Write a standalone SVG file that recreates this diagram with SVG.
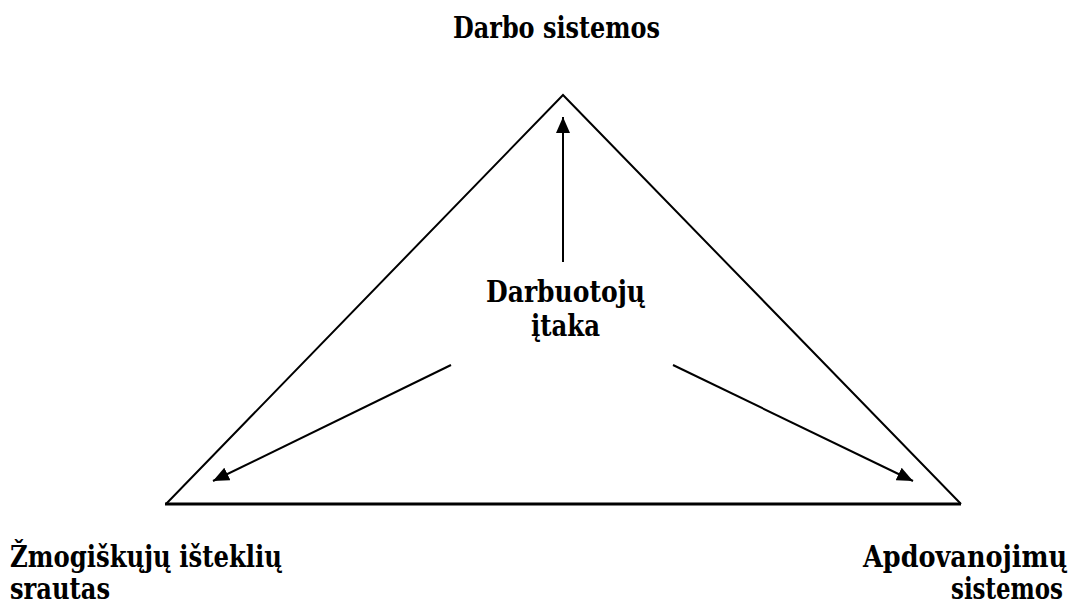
<svg xmlns="http://www.w3.org/2000/svg" width="1070" height="607" viewBox="0 0 1070 607">
<defs>
<style>
text{font-family:'DejaVu Serif Condensed','Liberation Serif',serif;font-stretch:condensed;font-weight:700;font-size:29px;fill:#000}
.l{stroke:#000;stroke-width:2;fill:none}
</style>
<marker id="a" viewBox="0 0 16 14" refX="16" refY="7" markerWidth="16" markerHeight="14" markerUnits="userSpaceOnUse" orient="auto">
<path d="M0,0 L16,7 L0,14 Z" fill="#000"/>
</marker>
</defs>
<rect width="1070" height="607" fill="#fff"/>
<g id="triangle">
<path class="l" d="M166,504 L563,95 L961,504"/>
<line x1="165" y1="504" x2="961" y2="504" stroke="#000" stroke-width="3"/>
</g>
<g id="connectors">
<line class="l" x1="563" y1="262" x2="563" y2="117" marker-end="url(#a)"/>
<line class="l" x1="451" y1="365" x2="213" y2="481" marker-end="url(#a)"/>
<line class="l" x1="673" y1="365" x2="913" y2="481" marker-end="url(#a)"/>
</g>
<g id="node-darbo">
<text x="453" y="38" textLength="207" lengthAdjust="spacingAndGlyphs">Darbo sistemos</text>
</g>
<g id="node-center">
<text x="486" y="302" textLength="159" lengthAdjust="spacingAndGlyphs">Darbuotojų</text>
<text x="531" y="336" textLength="69" lengthAdjust="spacingAndGlyphs">įtaka</text>
</g>
<g id="node-zmog">
<text x="10" y="567" textLength="272" lengthAdjust="spacingAndGlyphs">Žmogiškųjų išteklių</text>
<text x="10" y="599" textLength="100" lengthAdjust="spacingAndGlyphs">srautas</text>
</g>
<g id="node-apdov">
<text x="863" y="567" textLength="204" lengthAdjust="spacingAndGlyphs">Apdovanojimų</text>
<text x="951" y="599" textLength="112" lengthAdjust="spacingAndGlyphs">sistemos</text>
</g>
</svg>
